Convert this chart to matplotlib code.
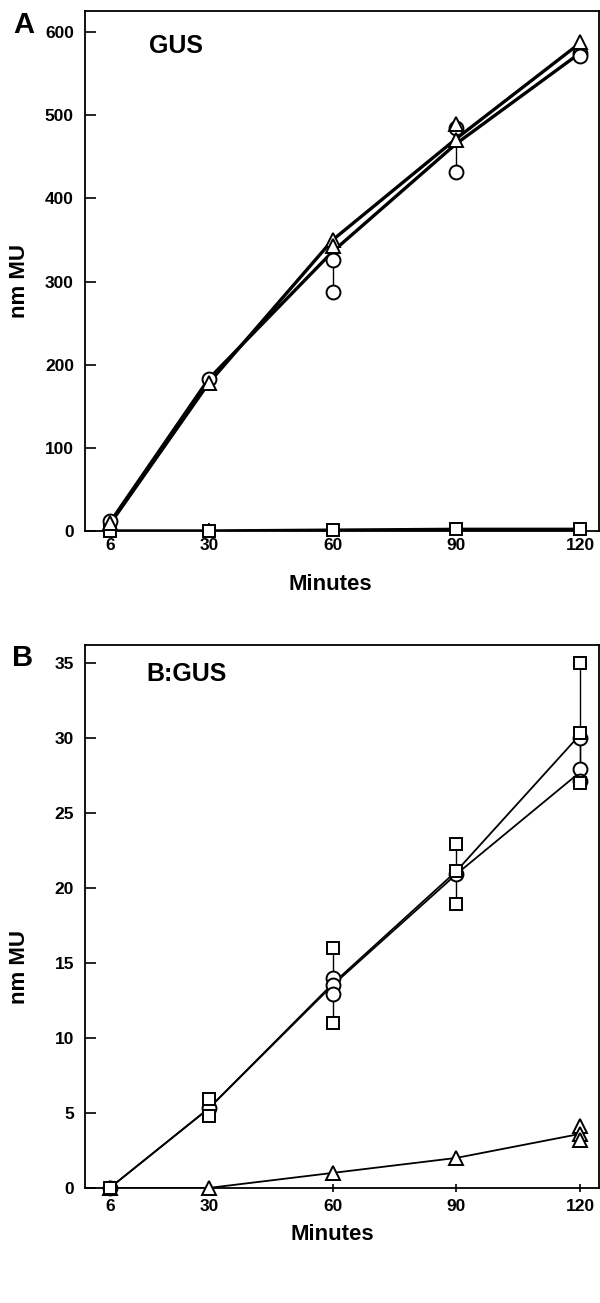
import matplotlib
matplotlib.use("Agg")
import matplotlib.pyplot as plt

### DATA ###
minutes = [6, 30, 60, 90, 120]
tick_labels = ["6", "30", "60", "90", "120"]

# Panel A (GUS): line values and replicate points per time point
gus_circle_line = [10, 183, 336, 466, 575]
gus_triangle_line = [8, 178, 350, 472, 587]
gus_square_line = [0, 0, 1, 2, 2]
gus_circle_reps = [[12], [183], [326, 287], [485, 432], [575, 572]]
gus_triangle_reps = [[10], [178], [350, 343], [490, 470], [588]]
gus_square_reps = [[0], [0], [1], [2], [2]]

# Panel B (B:GUS)
bgus_square_line = [0, 5.3, 13.6, 21.1, 30.2]
bgus_circle_line = [0, 5.3, 13.5, 20.9, 27.7]
bgus_triangle_line = [0, 0, 1.0, 2.0, 3.6]
bgus_square_reps = [[0], [5.9, 4.8], [16.0, 11.0], [22.9, 21.1, 18.9], [35.0, 30.3, 27.0]]
bgus_circle_reps = [[0], [5.3], [14.0, 13.5, 12.9], [20.9], [30.0, 27.9, 27.1]]
bgus_triangle_reps = [[0], [0], [1.0], [2.0], [4.1, 3.6, 3.2]]

plt.rcParams['font.family'] = ['Liberation Sans', 'DejaVu Sans']
plt.rcParams['font.weight'] = 'bold'


def draw_series(ax, line, reps, marker, ms, lw):
    # mean line
    ax.plot(minutes, line, color='black', lw=lw, zorder=2, solid_capstyle='butt')
    # replicate range bars and open markers
    for x, vals in zip(minutes, reps):
        if len(vals) > 1:
            ax.vlines(x, min(vals), max(vals), color='black', lw=1.0, zorder=2)
        ax.plot([x] * len(vals), vals, linestyle='none', marker=marker, ms=ms,
                mfc='white', mec='black', mew=1.4, zorder=3, clip_on=False)


def style_axes(ax, ymax, yticks, xdir):
    ax.set_xlim(0, 124.5)
    ax.set_ylim(0, ymax)
    ax.set_xticks(minutes)
    ax.set_xticklabels(tick_labels)
    ax.set_yticks(yticks)
    for sp in ax.spines.values():
        sp.set_linewidth(1.3)
    ax.tick_params(axis='y', direction='in', length=8, width=1.2, pad=8, labelsize=12.5)
    ax.tick_params(axis='x', direction=xdir, length=6, width=1.2, pad=5, labelsize=12.5)
    for lab in ax.get_xticklabels() + ax.get_yticklabels():
        lab.set_fontweight('bold')


fig = plt.figure(figsize=(6, 13.03), dpi=100)

# Panel A
axA = fig.add_axes([0.1417, 0.5925, 0.856, 0.3987])
draw_series(axA, gus_square_line, gus_square_reps, 's', 9, 2.4)
draw_series(axA, gus_circle_line, gus_circle_reps, 'o', 10, 2.4)
draw_series(axA, gus_triangle_line, gus_triangle_reps, '^', 10, 2.4)
style_axes(axA, 625, [0, 100, 200, 300, 400, 500, 600], 'in')
axA.set_xlabel("Minutes", fontsize=16, fontweight='bold')
axA.set_ylabel("nm MU", fontsize=16, fontweight='bold')
axA.xaxis.set_label_coords(0.477, -0.083)
axA.yaxis.set_label_coords(-0.107, 0.481)
axA.text(0.125, 0.934, "GUS", transform=axA.transAxes, fontsize=18,
         fontweight='bold', ha='left', va='center')
fig.text(0.04, 0.9808, "A", fontsize=21, fontweight='bold', ha='center', va='center')

# Panel B
axB = fig.add_axes([0.1417, 0.0883, 0.856, 0.417])
draw_series(axB, bgus_triangle_line, bgus_triangle_reps, '^', 10, 1.3)
draw_series(axB, bgus_circle_line, bgus_circle_reps, 'o', 10, 1.3)
draw_series(axB, bgus_square_line, bgus_square_reps, 's', 9, 1.3)
style_axes(axB, 36.2, [0, 5, 10, 15, 20, 25, 30, 35], 'inout')
axB.set_xlabel("Minutes", fontsize=16, fontweight='bold')
axB.set_ylabel("nm MU", fontsize=16, fontweight='bold')
axB.xaxis.set_label_coords(0.482, -0.0655)
axB.yaxis.set_label_coords(-0.107, 0.407)
axB.text(0.12, 0.946, "B:GUS", transform=axB.transAxes, fontsize=18,
         fontweight='bold', ha='left', va='center')
fig.text(0.037, 0.4950, "B", fontsize=21, fontweight='bold', ha='center', va='center')

plt.savefig("out.png", dpi=100)
